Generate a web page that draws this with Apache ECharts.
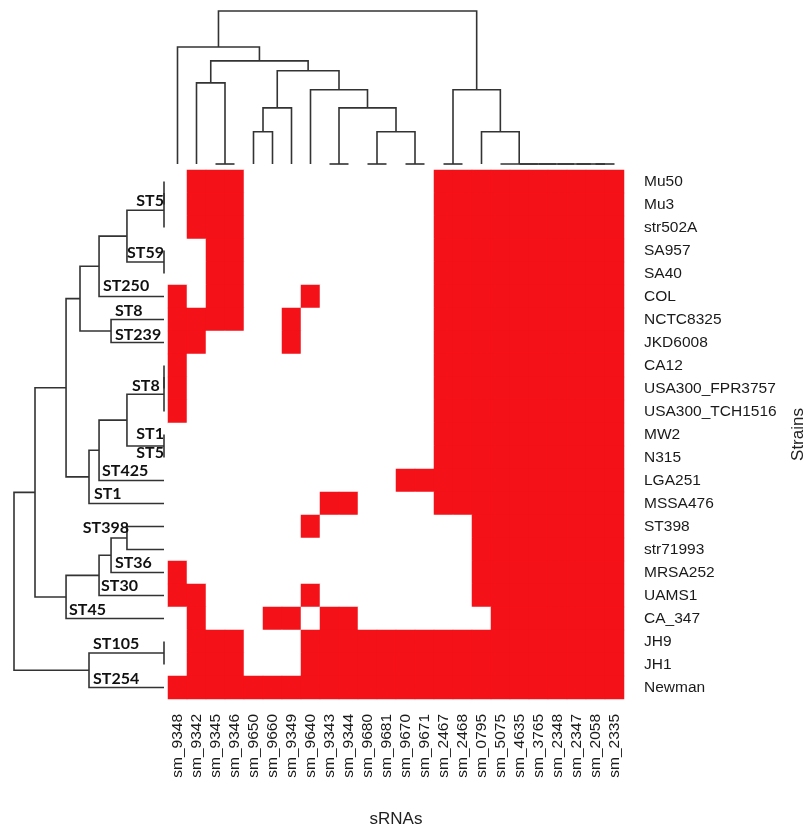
<!DOCTYPE html>
<html>
<head>
<meta charset="utf-8">
<script src="https://cdn.jsdelivr.net/npm/echarts@6/dist/echarts.min.js"></script>
<style>
html,body{margin:0;padding:0;background:#fff;}
#chart{width:808px;height:828px;}
</style>
</head>
<body>
<div id="chart"></div>
<script>
// ---- data ----
const sRNAs = ['sm_9348','sm_9342','sm_9345','sm_9346','sm_9650','sm_9660','sm_9349','sm_9640',
  'sm_9343','sm_9344','sm_9680','sm_9681','sm_9670','sm_9671','sm_2467','sm_2468','sm_0795',
  'sm_5075','sm_4635','sm_3765','sm_2348','sm_2347','sm_2058','sm_2335'];
const strains = ['Mu50','Mu3','str502A','SA957','SA40','COL','NCTC8325','JKD6008','CA12',
  'USA300_FPR3757','USA300_TCH1516','MW2','N315','LGA251','MSSA476','ST398','str71993',
  'MRSA252','UAMS1','CA_347','JH9','JH1','Newman'];
// presence (1) / absence (0) of each sRNA per strain, rows follow `strains`, columns follow `sRNAs`
const presence = [
  [0,1,1,1,0,0,0,0,0,0,0,0,0,0,1,1,1,1,1,1,1,1,1,1],
  [0,1,1,1,0,0,0,0,0,0,0,0,0,0,1,1,1,1,1,1,1,1,1,1],
  [0,1,1,1,0,0,0,0,0,0,0,0,0,0,1,1,1,1,1,1,1,1,1,1],
  [0,0,1,1,0,0,0,0,0,0,0,0,0,0,1,1,1,1,1,1,1,1,1,1],
  [0,0,1,1,0,0,0,0,0,0,0,0,0,0,1,1,1,1,1,1,1,1,1,1],
  [1,0,1,1,0,0,0,1,0,0,0,0,0,0,1,1,1,1,1,1,1,1,1,1],
  [1,1,1,1,0,0,1,0,0,0,0,0,0,0,1,1,1,1,1,1,1,1,1,1],
  [1,1,0,0,0,0,1,0,0,0,0,0,0,0,1,1,1,1,1,1,1,1,1,1],
  [1,0,0,0,0,0,0,0,0,0,0,0,0,0,1,1,1,1,1,1,1,1,1,1],
  [1,0,0,0,0,0,0,0,0,0,0,0,0,0,1,1,1,1,1,1,1,1,1,1],
  [1,0,0,0,0,0,0,0,0,0,0,0,0,0,1,1,1,1,1,1,1,1,1,1],
  [0,0,0,0,0,0,0,0,0,0,0,0,0,0,1,1,1,1,1,1,1,1,1,1],
  [0,0,0,0,0,0,0,0,0,0,0,0,0,0,1,1,1,1,1,1,1,1,1,1],
  [0,0,0,0,0,0,0,0,0,0,0,0,1,1,1,1,1,1,1,1,1,1,1,1],
  [0,0,0,0,0,0,0,0,1,1,0,0,0,0,1,1,1,1,1,1,1,1,1,1],
  [0,0,0,0,0,0,0,1,0,0,0,0,0,0,0,0,1,1,1,1,1,1,1,1],
  [0,0,0,0,0,0,0,0,0,0,0,0,0,0,0,0,1,1,1,1,1,1,1,1],
  [1,0,0,0,0,0,0,0,0,0,0,0,0,0,0,0,1,1,1,1,1,1,1,1],
  [1,1,0,0,0,0,0,1,0,0,0,0,0,0,0,0,1,1,1,1,1,1,1,1],
  [0,1,0,0,0,1,1,0,1,1,0,0,0,0,0,0,0,1,1,1,1,1,1,1],
  [0,1,1,1,0,0,0,1,1,1,1,1,1,1,1,1,1,1,1,1,1,1,1,1],
  [0,1,1,1,0,0,0,1,1,1,1,1,1,1,1,1,1,1,1,1,1,1,1,1],
  [1,1,1,1,1,1,1,1,1,1,1,1,1,1,1,1,1,1,1,1,1,1,1,1]
];
// column dendrogram merges: [childA, childB, height]; number = leaf index, 'mK' = merge K
const colMerges = [
  [2,3,0],[8,9,0],[10,11,0],[12,13,0],[14,15,0],[22,23,0],
  [21,'m5',0],[20,'m6',0],[19,'m7',0],[18,'m8',0],[17,'m9',0],
  [4,5,0.211],['m2','m3',0.211],[16,'m10',0.211],
  [1,'m0',0.530],['m11',6,0.367],['m1','m12',0.367],
  [7,'m16',0.485],['m4','m13',0.485],['m15','m17',0.609],
  ['m14','m19',0.674],[0,'m20',0.765],['m21','m18',1.0]
];
// row dendrogram merges
const rowMerges = [
  [0,1,0],['m0',2,0],[3,4,0],['m1','m2',0.247],['m3',5,0.433],
  [6,7,0.353],['m4','m5',0.56],[8,9,0],['m7',10,0],[11,12,0],
  ['m8','m9',0.247],['m10',13,0.433],['m11',14,0.5],['m6','m12',0.653],
  [15,16,0.247],['m14',17,0.353],['m15',18,0.433],['m16',19,0.653],
  ['m13','m17',0.86],[20,21,0],['m19',22,0.5],['m18','m20',1.0]
];
// sequence-type annotations on the row dendrogram: [text, row position, branch height, anchor side]
const stLabels = [
  ['ST5',0.85,0,'right'],['ST59',3.12,0,'right'],['ST250',4.54,0.407,'left'],
  ['ST8',5.61,0.327,'left'],['ST239',6.66,0.327,'left'],['ST8',8.87,0.213,'left'],
  ['ST1',10.96,0,'right'],['ST5',11.79,0,'right'],['ST425',12.56,0.413,'left'],
  ['ST1',13.6,0.467,'left'],['ST398',15.05,0.233,'right'],['ST36',16.57,0.327,'left'],
  ['ST30',17.6,0.42,'left'],['ST45',18.63,0.633,'left'],['ST105',20.09,0.473,'left'],
  ['ST254',21.62,0.473,'left']
];

// ---- build ----
function layoutTree(merges){
  const pos=[], ht=[], segs=[];
  const get = c => typeof c === 'number' ? [c,0] : [pos[+c.slice(1)], ht[+c.slice(1)]];
  merges.forEach((m,i)=>{
    const [pa,ha] = get(m[0]); const [pb,hb] = get(m[1]);
    pos[i] = (pa+pb)/2; ht[i] = m[2];
    segs.push([pa,pb,ha,hb,m[2]]);
  });
  return segs;
}
const colSegs = layoutTree(colMerges);
const rowSegs = layoutTree(rowMerges);

const heatData = [];
presence.forEach((row,r)=>row.forEach((v,c)=>heatData.push([c,r,v])));

const RED = '#f41117';
const LINE = '#333333';
const labelFont = 'Liberation Sans, Arial, sans-serif';

const chart = echarts.init(document.getElementById('chart'), null, {renderer:'canvas'});
chart.setOption({
  animation:false,
  backgroundColor:'#ffffff',
  grid:[
    {left:168, top:170, width:456, height:529, outerBoundsMode:'none', containLabel:false},
    {left:168, top:11, width:456, height:153, outerBoundsMode:'none', containLabel:false},
    {left:14, top:170, width:150, height:529, outerBoundsMode:'none', containLabel:false}
  ],
  xAxis:[
    {type:'category', gridIndex:0, data:sRNAs, position:'bottom',
     axisLine:{show:false}, axisTick:{show:false}, splitLine:{show:false},
     axisLabel:{rotate:90, interval:0, margin:15, fontSize:15.5, color:'#1a1a1a', fontFamily:labelFont},
     name:'sRNAs', nameLocation:'middle', nameGap:112, nameMoveOverlap:false,
     nameTextStyle:{fontSize:17, color:'#222', fontFamily:labelFont}},
    {type:'value', gridIndex:1, min:-0.5, max:23.5, show:false},
    {type:'value', gridIndex:2, min:0, max:1, inverse:true, show:false}
  ],
  yAxis:[
    {type:'category', gridIndex:0, data:strains, inverse:true, position:'right',
     axisLine:{show:false}, axisTick:{show:false}, splitLine:{show:false},
     axisLabel:{interval:0, margin:20, fontSize:15.5, color:'#1a1a1a', fontFamily:labelFont},
     name:'Strains', nameLocation:'middle', nameGap:166, nameRotate:90, nameMoveOverlap:false,
     nameTextStyle:{fontSize:17, color:'#222', fontFamily:labelFont}},
    {type:'value', gridIndex:1, min:0, max:1, show:false},
    {type:'value', gridIndex:2, min:-0.5, max:22.5, inverse:true, show:false}
  ],
  visualMap:{
    type:'piecewise', show:false, seriesIndex:0, dimension:2,
    pieces:[{value:0, color:'#ffffff'},{value:1, color:RED}]
  },
  series:[
    {type:'heatmap', xAxisIndex:0, yAxisIndex:0, data:heatData,
     itemStyle:{borderWidth:0}, emphasis:{disabled:true}},
    {type:'custom', xAxisIndex:1, yAxisIndex:1, data:colSegs, clip:false,
     renderItem:(params, api)=>{
       const pa=api.value(0), pb=api.value(1), ha=api.value(2), hb=api.value(3), h=api.value(4);
       return {type:'polyline', shape:{points:[api.coord([pa,ha]),api.coord([pa,h]),api.coord([pb,h]),api.coord([pb,hb])]},
         style:{stroke:LINE, lineWidth:1.6, fill:null}};
     }},
    {type:'custom', xAxisIndex:2, yAxisIndex:2, data:rowSegs, clip:false,
     renderItem:(params, api)=>{
       const pa=api.value(0), pb=api.value(1), ha=api.value(2), hb=api.value(3), h=api.value(4);
       return {type:'polyline', shape:{points:[api.coord([ha,pa]),api.coord([h,pa]),api.coord([h,pb]),api.coord([hb,pb])]},
         style:{stroke:LINE, lineWidth:1.6, fill:null}};
     }},
    {type:'custom', xAxisIndex:2, yAxisIndex:2, clip:false,
     data:stLabels.map(d=>({value:[d[2], d[1]], name:d[0]})),
     renderItem:(params, api)=>{
       const d = stLabels[params.dataIndex];
       const p = api.coord([d[2], d[1]]);
       return {type:'text', x:p[0], y:p[1], style:{text:d[0], align:d[3], verticalAlign:'middle',
         fill:'#111', font:'bold 16px Lato, "Open Sans", sans-serif'}};
     }}
  ]
});
</script>
</body>
</html>
